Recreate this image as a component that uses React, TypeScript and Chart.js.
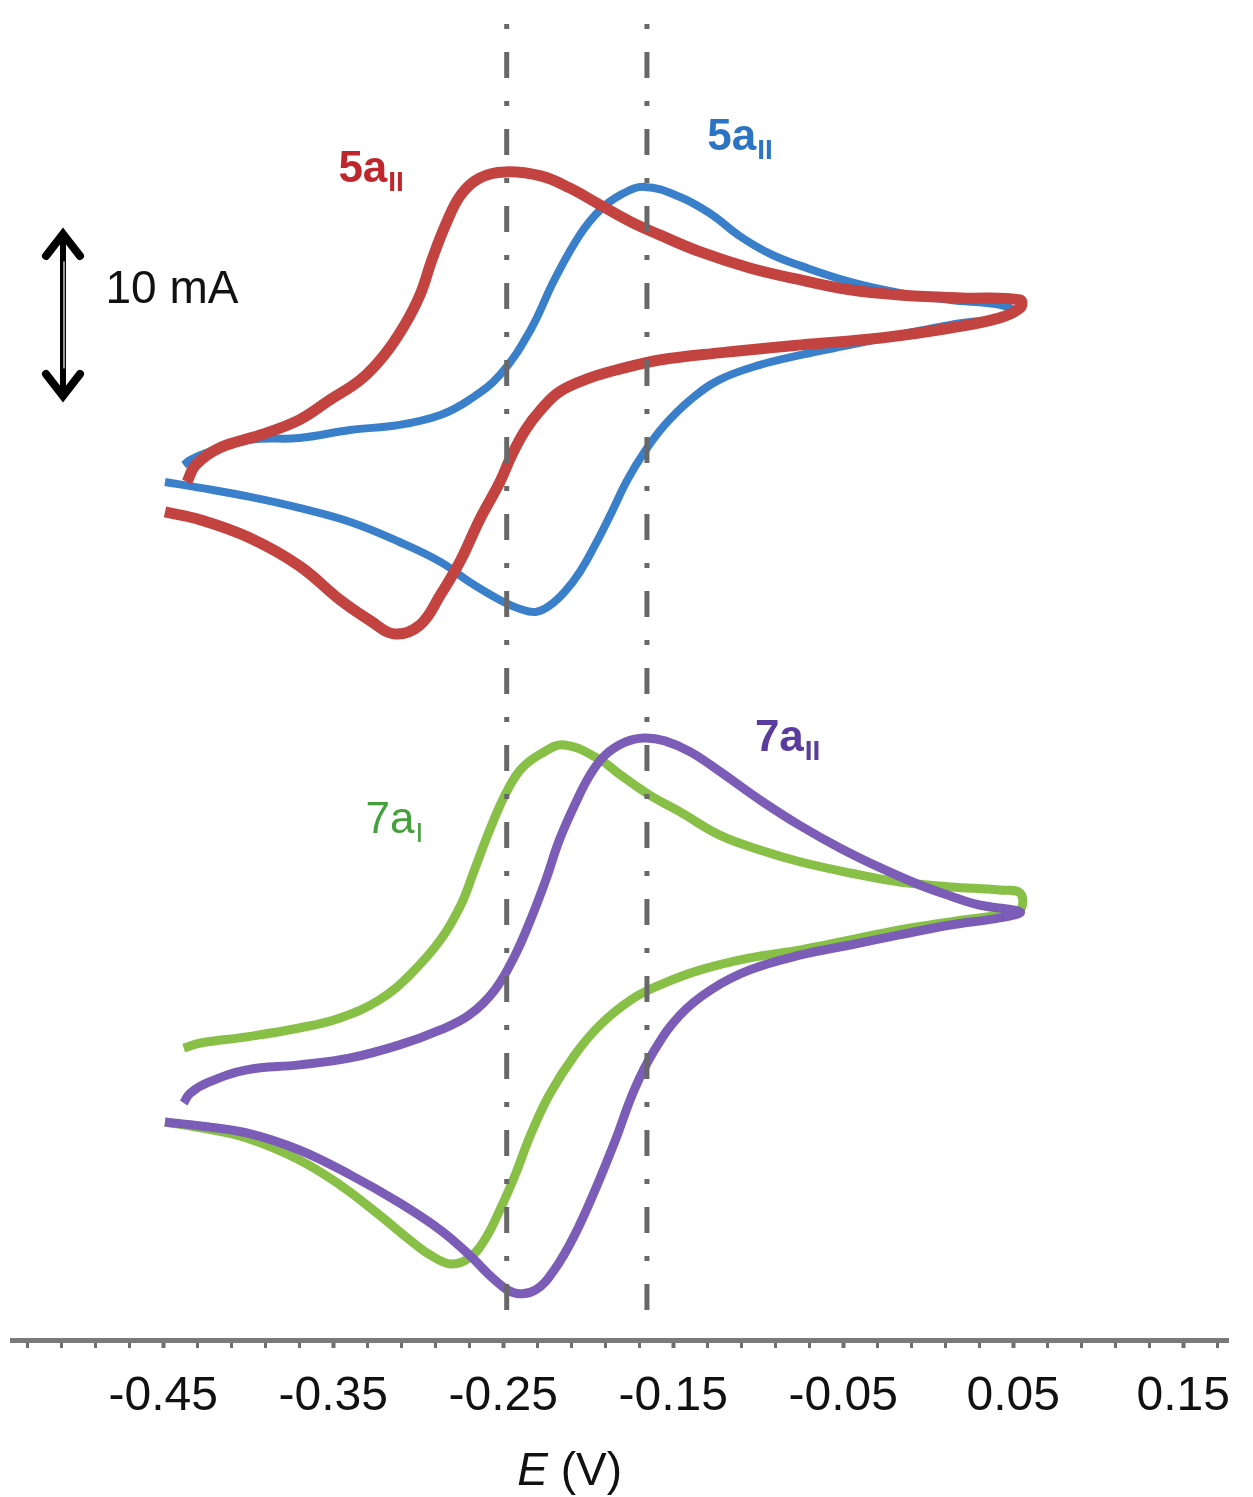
import React, { useEffect, useRef } from "react";
import { Chart, registerables } from "chart.js";
Chart.register(...registerables);

// Cyclic voltammograms (potential E in V, current in mA, curves stacked with offsets)
const redE = [-0.449,-0.428,-0.399,-0.370,-0.346,-0.328,-0.314,-0.299,-0.287,-0.275,-0.264,-0.252,-0.245,-0.237,-0.228,-0.217,-0.199,-0.181,-0.158,-0.123,-0.075,-0.028,0.013,0.042,0.054,0.054,0.019,-0.017,-0.046,-0.075,-0.105,-0.134,-0.158,-0.175,-0.193,-0.211,-0.228,-0.249,-0.264,-0.275,-0.284,-0.292,-0.299,-0.308,-0.320,-0.334,-0.352,-0.370,-0.393,-0.417,-0.431,-0.436];
const redI = [47.30,46.84,45.80,44.20,42.24,41.03,40.29,40.80,42.53,44.54,46.84,49.02,50.57,52.01,53.16,54.20,55.00,55.52,56.03,56.44,56.90,57.30,57.87,58.45,59.02,59.48,59.60,59.77,60.06,60.63,61.32,62.24,63.22,63.97,64.94,65.92,66.61,66.84,66.49,65.52,63.79,61.78,59.77,58.05,56.32,54.89,53.74,52.59,51.72,50.98,50.00,49.02];

const blueE = [-0.449,-0.428,-0.399,-0.370,-0.340,-0.311,-0.287,-0.270,-0.252,-0.240,-0.231,-0.223,-0.214,-0.205,-0.196,-0.187,-0.177,-0.167,-0.155,-0.140,-0.123,-0.099,-0.075,-0.046,-0.017,0.013,0.042,0.051,0.042,0.013,-0.017,-0.046,-0.075,-0.093,-0.111,-0.128,-0.146,-0.167,-0.181,-0.193,-0.205,-0.220,-0.234,-0.252,-0.270,-0.287,-0.311,-0.340,-0.370,-0.399,-0.423,-0.434,-0.438];
const blueI = [49.02,48.68,48.16,47.53,46.72,45.57,44.43,43.28,42.24,41.72,41.55,41.90,42.70,43.85,45.40,47.13,49.14,50.75,52.30,53.74,54.89,55.75,56.32,56.90,57.47,58.05,58.45,58.79,59.20,59.48,59.89,60.52,61.44,62.13,63.16,64.43,65.40,65.98,65.52,64.66,63.22,60.63,57.76,55.17,53.74,52.87,52.30,52.01,51.55,51.44,50.75,50.29,50.00];

const greenE = [-0.449,-0.428,-0.401,-0.370,-0.346,-0.323,-0.305,-0.293,-0.281,-0.270,-0.261,-0.252,-0.243,-0.234,-0.223,-0.208,-0.193,-0.175,-0.158,-0.134,-0.105,-0.075,-0.046,-0.017,0.013,0.042,0.054,0.054,0.042,0.013,-0.017,-0.046,-0.075,-0.099,-0.123,-0.146,-0.164,-0.181,-0.193,-0.214,-0.228,-0.240,-0.249,-0.258,-0.267,-0.275,-0.287,-0.305,-0.323,-0.346,-0.370,-0.401,-0.428,-0.438];
const greenI = [12.24,11.90,11.32,10.06,8.62,6.90,5.46,4.60,4.08,4.43,5.46,7.18,9.20,11.49,13.79,16.09,17.82,19.25,20.11,20.98,21.67,22.13,22.70,23.28,23.74,24.14,24.43,25.40,25.57,25.75,26.03,26.55,27.18,27.87,28.74,30.06,31.03,32.18,33.05,33.91,33.39,32.47,31.03,29.02,26.72,24.71,22.70,20.69,19.25,18.22,17.64,17.13,16.78,16.49];

const purpleE = [-0.449,-0.428,-0.401,-0.370,-0.340,-0.311,-0.287,-0.270,-0.255,-0.243,-0.231,-0.220,-0.208,-0.196,-0.184,-0.173,-0.161,-0.146,-0.128,-0.105,-0.075,-0.046,-0.017,0.013,0.042,0.054,0.030,0.013,-0.005,-0.028,-0.052,-0.075,-0.099,-0.123,-0.140,-0.155,-0.167,-0.178,-0.190,-0.199,-0.208,-0.217,-0.225,-0.234,-0.243,-0.255,-0.270,-0.287,-0.311,-0.340,-0.370,-0.401,-0.423,-0.434,-0.438];
const purpleI = [12.24,12.01,11.61,10.63,9.20,7.59,6.03,4.60,3.16,2.41,2.59,3.74,5.75,8.33,11.21,14.08,16.38,18.39,19.83,20.98,21.84,22.41,22.99,23.56,23.97,24.31,24.71,25.23,25.86,26.84,27.99,29.25,30.75,32.41,33.51,34.14,34.31,34.08,33.33,32.18,30.46,28.45,26.15,23.85,21.84,19.83,18.39,17.53,16.67,15.92,15.52,15.23,14.54,13.91,13.33];

// Peak-potential reference lines
const refLineE = [-0.248, -0.1655];
const refLineI = [1.44, 76.15];

// Axis ticks
const xMajorTicks = [-0.45, -0.35, -0.25, -0.15, -0.05, 0.05, 0.15];
const xTickLabels = ["-0.45", "-0.35", "-0.25", "-0.15", "-0.05", "0.05", "0.15"];
const xMinorStart = -0.53;
const xMinorStep = 0.02;
const xMinorCount = 36;
const xMin = -0.539;
const xMax = 0.1763;
const yMin = -0.29;
const yMax = 76.72;

// Text annotations (anchor in data units)
const curveLabels = [
  { main: "5a", sub: "II", e: -0.347, i: 66.26, color: "#c0272d", weight: "bold" },
  { main: "5a", sub: "II", e: -0.130, i: 68.10, color: "#2b74c4", weight: "bold" },
  { main: "7a", sub: "I", e: -0.331, i: 28.85, color: "#43a03a", weight: "normal" },
  { main: "7a", sub: "II", e: -0.102, i: 33.56, color: "#5a3b9e", weight: "bold" },
];
const scaleBar = { e: -0.509, top: 63.62, span: 10, label: "10 mA", labelE: -0.484 };
const axisTitle = { italic: "E", rest: " (V)", e: -0.211 };

const FONT = "'Liberation Sans', Arial, Helvetica, sans-serif";

const pts = (xs: number[], ys: number[]) => xs.map((x, k) => ({ x, y: ys[k] }));

const decorPlugin = {
  id: "decor",
  afterDraw(chart: any) {
    const { ctx } = chart;
    const x = chart.scales.x;
    const y = chart.scales.y;
    ctx.save();
    // curve labels
    for (const l of curveLabels) {
      const px = x.getPixelForValue(l.e);
      const py = y.getPixelForValue(l.i);
      ctx.fillStyle = l.color;
      ctx.textBaseline = "alphabetic";
      ctx.textAlign = "left";
      ctx.font = `${l.weight} 44px ${FONT}`;
      ctx.fillText(l.main, px, py);
      const w = ctx.measureText(l.main).width;
      ctx.font = `${l.weight} 28px ${FONT}`;
      ctx.fillText(l.sub, px + w + 1, py + 9);
    }
    // scale bar (double arrow)
    const ax = x.getPixelForValue(scaleBar.e);
    const yTop = y.getPixelForValue(scaleBar.top);
    const yBot = y.getPixelForValue(scaleBar.top - scaleBar.span);
    ctx.strokeStyle = "#000";
    ctx.lineCap = "round";
    ctx.lineJoin = "miter";
    ctx.lineWidth = 6;
    ctx.beginPath();
    ctx.moveTo(ax, yTop + 6);
    ctx.lineTo(ax, yBot - 6);
    ctx.stroke();
    ctx.lineWidth = 8;
    ctx.beginPath();
    ctx.moveTo(ax - 17, yTop + 28);
    ctx.lineTo(ax, yTop + 6);
    ctx.lineTo(ax + 17, yTop + 28);
    ctx.stroke();
    ctx.beginPath();
    ctx.moveTo(ax - 17, yBot - 28);
    ctx.lineTo(ax, yBot - 6);
    ctx.lineTo(ax + 17, yBot - 28);
    ctx.stroke();
    ctx.strokeStyle = "#fff";
    ctx.lineWidth = 1.2;
    ctx.beginPath();
    ctx.moveTo(ax + 1, yTop + 34);
    ctx.lineTo(ax + 1, yBot - 34);
    ctx.stroke();
    ctx.fillStyle = "#111";
    ctx.font = `46px ${FONT}`;
    ctx.textBaseline = "middle";
    ctx.fillText(scaleBar.label, x.getPixelForValue(scaleBar.labelE), y.getPixelForValue(scaleBar.top - scaleBar.span * 0.36));
    // axis title
    const cx = x.getPixelForValue(axisTitle.e);
    const by = x.bottom - 12;
    ctx.textBaseline = "alphabetic";
    ctx.font = `italic 46px ${FONT}`;
    const w1 = ctx.measureText(axisTitle.italic).width;
    ctx.font = `46px ${FONT}`;
    const w2 = ctx.measureText(axisTitle.rest).width;
    const sx = cx - (w1 + w2) / 2;
    ctx.font = `italic 46px ${FONT}`;
    ctx.fillText(axisTitle.italic, sx, by);
    ctx.font = `46px ${FONT}`;
    ctx.fillText(axisTitle.rest, sx + w1, by);
    ctx.restore();
  },
};

const isMajor = (v: number) => xMajorTicks.some((m) => Math.abs(m - v) < 1e-6);

export default function App() {
  const ref = useRef<HTMLCanvasElement | null>(null);
  useEffect(() => {
    if (!ref.current) return;
    const curve = (data: any, color: string, width: number) => ({
      data,
      showLine: true,
      borderColor: color,
      backgroundColor: color,
      borderWidth: width,
      pointRadius: 0,
      tension: 0.4,
      fill: false,
    });
    const dashed = (e: number) => ({
      data: refLineI.map((i) => ({ x: e, y: i })),
      showLine: true,
      borderColor: "#686868",
      borderWidth: 5,
      borderDash: [26, 23, 5, 23],
      pointRadius: 0,
      fill: false,
    });
    const chart = new Chart(ref.current, {
      type: "scatter",
      data: {
        datasets: [
          dashed(refLineE[0]),
          dashed(refLineE[1]),
          curve(pts(redE, redI), "#c2433f", 11),
          curve(pts(blueE, blueI), "#3a7fca", 8),
          curve(pts(purpleE, purpleI), "#7b5cb6", 9),
          curve(pts(greenE, greenI), "#88c047", 9),
        ] as any,
      },
      options: {
        responsive: false,
        animation: false,
        devicePixelRatio: 1,
        layout: { padding: { left: 12, right: 25, top: 0, bottom: 0 } },
        plugins: { legend: { display: false }, tooltip: { enabled: false } },
        scales: {
          x: {
            type: "linear",
            min: xMin,
            max: xMax,
            afterBuildTicks: (s: any) => {
              const t = [];
              for (let k = 0; k < xMinorCount; k++) t.push({ value: +(xMinorStart + k * xMinorStep).toFixed(3) });
              s.ticks = t;
            },
            afterFit: (s: any) => {
              s.height = 157;
            },
            ticks: {
              autoSkip: false,
              maxRotation: 0,
              padding: 20,
              color: "#111",
              font: { family: FONT, size: 48 },
              callback: (v: any) => {
                const k = xMajorTicks.findIndex((m) => Math.abs(m - v) < 1e-6);
                return k >= 0 ? xTickLabels[k] : "";
              },
            },
            grid: {
              drawOnChartArea: false,
              drawTicks: true,
              tickLength: 8,
              tickColor: "#6e6e6e",
              tickWidth: (c: any) => (c.tick && isMajor(c.tick.value) ? 4 : 3),
            } as any,
            border: { display: true, color: "#7a7a7a", width: 5 },
          },
          y: { display: false, min: yMin, max: yMax },
        },
      },
      plugins: [decorPlugin],
    });
    return () => chart.destroy();
  }, []);
  return (
    <div style={{ position: "absolute", left: 0, top: 0, width: 1253, height: 1497, background: "#fff" }}>
      <canvas ref={ref} width={1253} height={1497} />
    </div>
  );
}
